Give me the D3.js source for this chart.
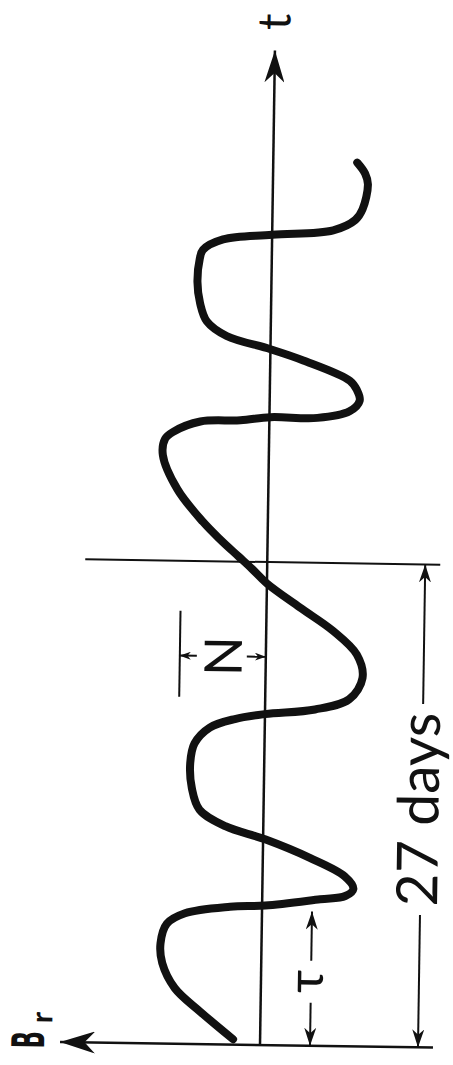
<!DOCTYPE html>
<html>
<head>
<meta charset="utf-8">
<script src="https://cdn.jsdelivr.net/npm/d3@7"></script>
<style>
  body { margin: 0; background: #fff; }
  text { font-family: Lato, "DejaVu Sans", sans-serif; fill: #111; }
</style>
</head>
<body>
<div id="chart"></div>
<script>
// B_r(t) curve (t in days, B_r in relative units)
var curveT = [0.3, 1.8, 3.1, 4.5, 5.6, 6.7, 7.3, 7.7, 7.8, 8.2, 8.4, 8.8, 9.5, 10.5, 11.5, 12.2,
  13.1, 14.3, 15.7, 16.8, 17.7, 18.2, 18.5, 18.8, 19.4, 20.6, 21.9, 23.2, 24.5, 25.8,
  26.6, 27.3, 28.2, 29.2, 31.0, 32.9, 33.8, 34.2, 34.8, 34.9, 35.1, 35.1, 35.5, 36.1, 36.7, 37.2,
  38.3, 38.9, 39.6, 40.4, 41.4, 42.6, 43.9, 44.4, 45.0, 45.3, 45.6, 46.2, 46.8, 48.2, 48.8, 49.4];
var curveB = [0.27, 0.60, 0.86, 0.99, 1.01, 0.95, 0.77, 0.32, -0.03, -0.58, -0.83, -0.91, -0.82, -0.47, -0.02, 0.38,
  0.64, 0.72, 0.74, 0.70, 0.55, 0.30, 0.00, -0.50, -0.84, -0.97, -0.91, -0.67, -0.33, 0.00,
  0.15, 0.29, 0.47, 0.65, 0.91, 1.06, 1.04, 0.96, 0.69, 0.29, -0.01, -0.48, -0.80, -0.90, -0.87, -0.80,
  -0.33, 0.00, 0.44, 0.64, 0.71, 0.74, 0.72, 0.69, 0.49, 0.00, -0.61, -0.83, -0.90, -0.95, -0.92, -0.84];

// axes and annotations
var tAxisEnd = 55.6;
var brAxisRange = [-1.73, 2.0];
var rotationDays = 27;
var rotationLineRange = [-1.73, 1.82];
var dimB = -1.58;
var dimGap = [7.4, 19.2];
var tauB = -0.5;
var tauSpan = [0, 7.5];
var tauGap = [2.4, 4.75];
var nBar = [19.4, 24.2];
var nT = 21.7;
var nB = 0.86;
var nGap = [0.19, 0.69];

// labels: [text, B of baseline, t of centre, font size]
var labels = [
  ["27 days", -1.75, 13.3, 57],
  ["N", 0.24, 21.7, 52],
  ["\u03c4", -0.62, 3.6, 50],
  ["t", -0.15, 57.2, 46]
];

var width = 453, height = 1065;

var svg = d3.select("#chart")
  .append("svg")
  .attr("width", width)
  .attr("height", height);

var yScale = d3.scaleLinear().domain([0, 27]).range([1045, 562]);
var xScale = d3.scaleLinear().domain([0, 1]).range([260, 160]);

//Arrow heads
var defs = svg.append("defs");
function marker(id, len, wid) {
  defs.append("marker")
    .attr("id", id)
    .attr("markerUnits", "userSpaceOnUse")
    .attr("viewBox", "0 0 " + len + " " + wid)
    .attr("markerWidth", len)
    .attr("markerHeight", wid)
    .attr("refX", len)
    .attr("refY", wid / 2)
    .attr("orient", "auto")
    .append("path")
    .attr("d", "M0,0 L" + len + "," + wid / 2 + " L0," + wid + " L" + len * 0.3 + "," + wid / 2 + " Z")
    .attr("fill", "#111");
}
marker("arrowT", 32, 20);
marker("arrowB", 35, 22);
marker("arrowS", 18, 12);
marker("arrowN", 11, 8);

// whole drawing slightly tilted, as in the scan
var g = svg.append("g").attr("transform", "rotate(0.86,260,1045)");

function seg(b1, t1, b2, t2, w, m) {
  var l = g.append("line")
    .attr("x1", xScale(b1)).attr("y1", yScale(t1))
    .attr("x2", xScale(b2)).attr("y2", yScale(t2))
    .attr("stroke", "#111")
    .attr("stroke-width", w);
  if (m) l.attr("marker-end", "url(#" + m + ")");
  return l;
}

// t axis and B_r axis
seg(0, 0, 0, tAxisEnd, 2.5, "arrowT");
seg(brAxisRange[0], 0, brAxisRange[1], 0, 2.5, "arrowB");

// 27 day marker
seg(rotationLineRange[0], rotationDays, rotationLineRange[1], rotationDays, 2);
seg(dimB, dimGap[0], dimB, 0, 2, "arrowS");
seg(dimB, dimGap[1], dimB, rotationDays, 2, "arrowS");

// tau
seg(tauB, tauGap[0], tauB, tauSpan[0], 2, "arrowS");
seg(tauB, tauGap[1], tauB, tauSpan[1], 2, "arrowS");

// N
seg(nB, nBar[0], nB, nBar[1], 2);
seg(nGap[1], nT, nB, nT, 2, "arrowN");
seg(nGap[0], nT, 0, nT, 2, "arrowN");

// curve
var pts = curveT.map(function(t, i) { return { t: t, b: curveB[i] }; });
var line = d3.line()
  .x(function(d) { return xScale(d.b); })
  .y(function(d) { return yScale(d.t); })
  .curve(d3.curveCatmullRom.alpha(0.5));

g.append("path")
  .datum(pts)
  .attr("d", line)
  .attr("fill", "none")
  .attr("stroke", "#111")
  .attr("stroke-width", 8)
  .attr("stroke-linecap", "round")
  .attr("stroke-linejoin", "round");

// labels, rotated like the figure
g.selectAll("text.lab")
  .data(labels)
  .enter()
  .append("text")
  .attr("class", "lab")
  .attr("transform", function(d) {
    return "translate(" + xScale(d[1]) + "," + yScale(d[2]) + ") rotate(-90)";
  })
  .attr("text-anchor", "middle")
  .style("font-size", function(d) { return d[3] + "px"; })
  .text(function(d) { return d[0]; });

// B_r
g.append("text")
  .attr("transform", "translate(" + xScale(2.16) + "," + yScale(0.1) + ") rotate(-90) scale(0.5,1)")
  .attr("text-anchor", "middle")
  .style("font-family", "'DejaVu Sans', sans-serif")
  .style("font-size", "45px")
  .style("font-weight", "bold")
  .text("B");
g.append("text")
  .attr("transform", "translate(" + xScale(2.08) + "," + yScale(1.35) + ") rotate(-90)")
  .attr("text-anchor", "middle")
  .style("font-size", "30px")
  .style("font-weight", "bold")
  .text("r");
</script>
</body>
</html>
